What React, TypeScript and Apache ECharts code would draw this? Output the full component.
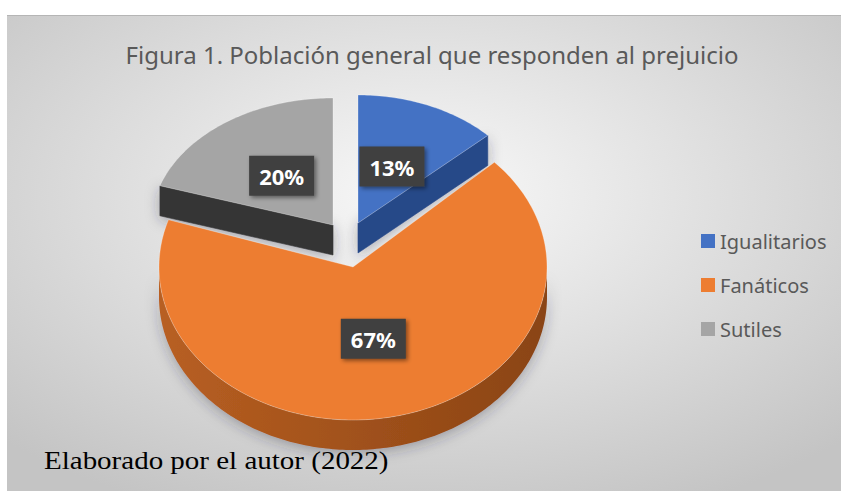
import React, { useEffect, useRef } from "react";
import * as echarts from "echarts";

// ---- data ----
const categories = ["Igualitarios", "Fanáticos", "Sutiles"];
const values = [13, 67, 20];
const titleText = "Figura 1. Población general que responden al prejuicio";
const sourceText = "Elaborado por el autor (2022)";

// ---- styles / layout (not data) ----
const topColors = ["#4472C4", "#ED7D31", "#A5A5A5"];
const wallColors = ["#2F56A0", "#B85F22", "#3E3E3E"];
const wallColorsDark = ["#264888", "#8A4414", "#353535"];
// per-slice top-face ellipse (apex position and radii, incl. explosion/perspective)
const sliceGeom = [
  { cx: 358, cy: 223, rx: 178, ry: 128 },
  { cx: 353, cy: 267, rx: 194, ry: 153 },
  { cx: 333, cy: 225, rx: 182, ry: 127 },
];
const DEPTH = 30;
const LABEL_FRAC = 0.48;

const total = values.reduce((a, b) => a + b, 0);
const startAngles: number[] = [];
{
  let acc = 0;
  for (const v of values) {
    startAngles.push((acc / total) * 360);
    acc += v;
  }
}

function pt(g: any, deg: number, dy = 0): [number, number] {
  const r = (deg * Math.PI) / 180;
  return [g.cx + g.rx * Math.sin(r), g.cy - g.ry * Math.cos(r) + dy];
}

function arcPts(g: any, a1: number, a2: number, dy = 0) {
  const pts: [number, number][] = [];
  const n = Math.max(2, Math.ceil(Math.abs(a2 - a1)));
  for (let k = 0; k <= n; k++) pts.push(pt(g, a1 + ((a2 - a1) * k) / n, dy));
  return pts;
}

function makeRender(i: number) {
  return (params: any, api: any) => {
    const v = api.value(0);
    const a1 = startAngles[i];
    const a2 = a1 + (v / total) * 360;
    const g = sliceGeom[i];
    const apex: [number, number] = [g.cx, g.cy];
    const apexB: [number, number] = [g.cx, g.cy + DEPTH];
    const children: any[] = [];
    const wallStyle = (c: string, shadow: boolean) => ({
      fill: c,
      stroke: c,
      lineWidth: 0.6,
      shadowBlur: shadow ? 14 : 0,
      shadowColor: "rgba(40,40,60,0.35)",
      shadowOffsetY: shadow ? 3 : 0,
    });
    // start radial face
    if (Math.sin((a1 * Math.PI) / 180) < -0.01) {
      const p = pt(g, a1);
      const pb = pt(g, a1, DEPTH);
      children.push({
        type: "polygon",
        shape: { points: [apex, p, pb, apexB] },
        style: wallStyle(wallColorsDark[i], true),
      });
    }
    // end radial face
    if (Math.sin((a2 * Math.PI) / 180) > 0.01) {
      const p = pt(g, a2);
      const pb = pt(g, a2, DEPTH);
      children.push({
        type: "polygon",
        shape: { points: [apex, p, pb, apexB] },
        style: wallStyle(wallColorsDark[i], true),
      });
    }
    // outer wall (front half only)
    const lo = Math.max(a1, 90);
    const hi = Math.min(a2, 270);
    if (hi > lo) {
      const top = arcPts(g, lo, hi);
      const bot = arcPts(g, hi, lo, DEPTH);
      children.push({
        type: "polygon",
        shape: { points: top.concat(bot) },
        style: {
          ...wallStyle(wallColors[i], true),
          fill: new echarts.graphic.LinearGradient(0, 0, 1, 0, [
            { offset: 0, color: wallColors[i] },
            { offset: 1, color: wallColorsDark[i] },
          ]),
          stroke: null,
        },
      });
    }
    // top face
    children.push({
      type: "polygon",
      shape: { points: [apex as any].concat(arcPts(g, a1, a2)) },
      style: { fill: topColors[i], stroke: "rgba(255,255,255,0.35)", lineWidth: 0.8 },
    });
    // label
    const mid = (a1 + a2) / 2;
    const lp = [
      g.cx + LABEL_FRAC * g.rx * Math.sin((mid * Math.PI) / 180),
      g.cy - LABEL_FRAC * g.ry * Math.cos((mid * Math.PI) / 180),
    ];
    children.push({
      type: "text",
      x: lp[0],
      y: lp[1],
      z2: 20,
      style: {
        text: Math.round((v / total) * 100) + "%",
        fill: "#ffffff",
        fontFamily: "Noto Sans",
        fontWeight: "bold",
        fontSize: 22,
        lineHeight: 24,
        align: "center",
        verticalAlign: "middle",
        backgroundColor: "#3F3F3F",
        padding: [8, 10],
        shadowBlur: 4,
        shadowColor: "rgba(0,0,0,0.45)",
        shadowOffsetX: 2,
        shadowOffsetY: 2,
      },
    });
    return { type: "group", children };
  };
}

export default function App() {
  const ref = useRef<HTMLDivElement>(null);
  useEffect(() => {
    if (!ref.current) return;
    const chart = echarts.init(ref.current, undefined, { renderer: "svg" });
    const zOrder = [2, 4, 2];
    chart.setOption({
      animation: false,
      color: topColors,
      legend: {
        orient: "vertical",
        left: 696,
        top: 226,
        itemWidth: 14,
        itemHeight: 14,
        itemGap: 24,
        icon: "rect",
        data: categories,
        textStyle: {
          fontFamily: "Noto Sans",
          fontSize: 20,
          lineHeight: 20,
          color: "#595959",
        },
      },
      graphic: [
        {
          type: "rect",
          z: -10,
          silent: true,
          shape: { x: 7, y: 15, width: 834, height: 476 },
          style: {
            fill: new echarts.graphic.RadialGradient(0.5, 0.38, 0.72, [
              { offset: 0, color: "#f9f9f9" },
              { offset: 1, color: "#c4c4c4" },
            ]),
          },
        },
        {
          type: "line",
          z: -9,
          shape: { x1: 7, y1: 15.5, x2: 841, y2: 15.5 },
          style: { stroke: "#b5b5b5", lineWidth: 1 },
        },
        {
          type: "text",
          z: 10,
          x: 432,
          y: 54,
          style: {
            text: titleText,
            fontFamily: "Noto Sans",
            fontSize: 24,
            fill: "#595959",
            align: "center",
            verticalAlign: "middle",
          },
        },
        {
          type: "text",
          z: 10,
          x: 44,
          y: 461,
          scaleX: 1.16,
          style: {
            text: sourceText,
            fontFamily: "Liberation Serif",
            fontSize: 25,
            fill: "#000000",
            align: "left",
            verticalAlign: "middle",
          },
        },
      ],
      series: categories.map((name, i) => ({
        type: "custom",
        name,
        coordinateSystem: "none",
        z: zOrder[i],
        itemStyle: { color: topColors[i] },
        data: [[values[i]]],
        renderItem: makeRender(i),
      })),
    });
    return () => chart.dispose();
  }, []);
  return (
    <div
      ref={ref}
      style={{ position: "absolute", left: 0, top: 0, width: 841, height: 491 }}
    />
  );
}
